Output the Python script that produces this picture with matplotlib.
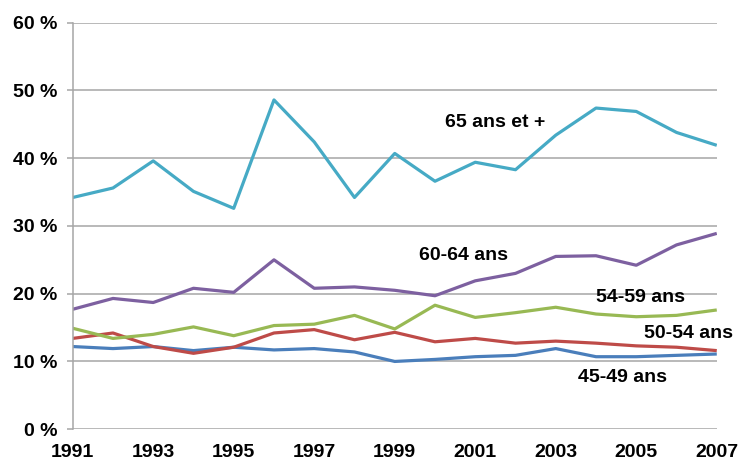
import numpy as np
import matplotlib.pyplot as plt
from matplotlib.ticker import FuncFormatter

plt.rcParams['font.family'] = ['Liberation Sans', 'DejaVu Sans']

years = list(range(1991, 2008))

# share per age group, in %
ans_45_49 = [12.2, 11.9, 12.2, 11.6, 12.1, 11.7, 11.9, 11.4, 10.0, 10.3, 10.7, 10.9, 11.9, 10.7, 10.7, 10.9, 11.1]
ans_50_54 = [13.4, 14.2, 12.2, 11.2, 12.1, 14.2, 14.7, 13.2, 14.3, 12.9, 13.4, 12.7, 13.0, 12.7, 12.3, 12.1, 11.6]
ans_54_59 = [14.9, 13.4, 14.0, 15.1, 13.8, 15.3, 15.5, 16.8, 14.8, 18.3, 16.5, 17.2, 18.0, 17.0, 16.6, 16.8, 17.6]
ans_60_64 = [17.7, 19.3, 18.7, 20.8, 20.2, 25.0, 20.8, 21.0, 20.5, 19.7, 21.9, 23.0, 25.5, 25.6, 24.2, 27.2, 28.9]
ans_65_plus = [34.2, 35.6, 39.6, 35.1, 32.6, 48.6, 42.4, 34.2, 40.7, 36.6, 39.4, 38.3, 43.4, 47.4, 46.9, 43.8, 41.9]

series = [ans_45_49, ans_50_54, ans_54_59, ans_60_64, ans_65_plus]
labels = ['45-49 ans', '50-54 ans', '54-59 ans', '60-64 ans', '65 ans et +']
colors = ['#4A7EBB', '#BE4B48', '#98B954', '#7D60A0', '#46AAC5']
label_pos = [(2004.65, 7.6), (2006.3, 14.1), (2005.1, 19.4), (2000.7, 25.6), (2001.5, 45.2)]

fig = plt.figure(figsize=(7.42, 4.63), dpi=100)
ax = fig.add_axes([0.098, 0.073, 0.868, 0.878])

for vals, lab, col, pos in zip(series, labels, colors, label_pos):
    ax.plot(years, vals, color=col, lw=2.3, solid_capstyle='butt')
    ax.text(pos[0], pos[1], lab, ha='center', va='center',
            fontsize=14, fontweight='bold', color='black')

ax.set_xlim(1991, 2007)
ax.set_ylim(0, 60)
ax.set_xticks(years[::2])
ax.set_yticks(range(0, 61, 10))
ax.yaxis.set_major_formatter(FuncFormatter(lambda v, p: f'{int(v)} %'))
ax.grid(axis='y', color='#A6A6A6', lw=1.1)
ax.set_axisbelow(True)

for s in ['top', 'right', 'bottom']:
    ax.spines[s].set_visible(False)
ax.spines['left'].set_color('#A6A6A6')
ax.spines['left'].set_linewidth(1.1)

ax.tick_params(axis='y', length=4, color='#A6A6A6', width=1.1, pad=7,
               labelsize=14)
ax.tick_params(axis='x', length=0, pad=11, labelsize=14)
for t in ax.get_xticklabels() + ax.get_yticklabels():
    t.set_fontweight('bold')

fig.savefig('out.png', dpi=100)
